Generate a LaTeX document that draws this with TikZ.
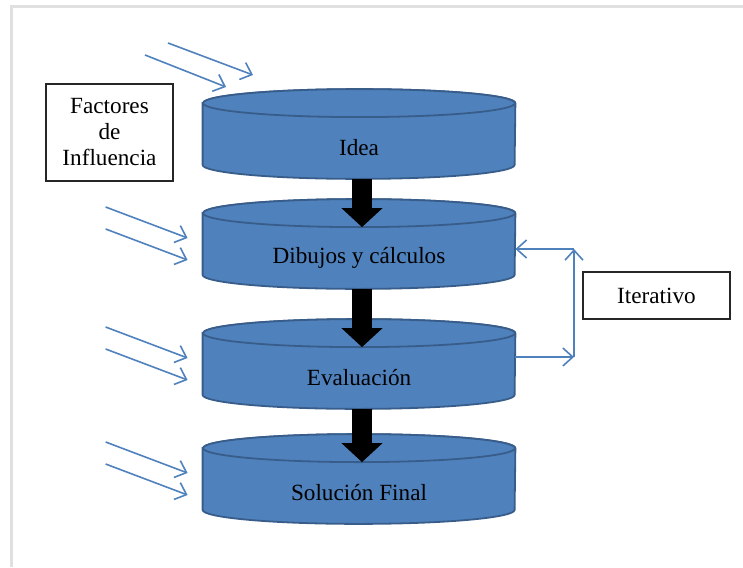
\documentclass[tikz,border=0pt]{standalone}
\usepackage{fontspec}
\setmainfont{Liberation Serif}
\usetikzlibrary{arrows.meta,backgrounds}
\definecolor{cylblue}{RGB}{79,129,189}
\definecolor{cyledge}{RGB}{56,93,138}

\begin{document}
\begin{tikzpicture}[x=0.5pt,y=0.5pt,
  cyl/.style={minimum width=156pt, minimum height=30.5pt, inner sep=0pt,
              font=\fontsize{11.6}{13}\selectfont},
  cylface/.style={fill=cylblue, draw=cyledge, line width=0.9pt},
  txtbox/.style={draw=black!85, line width=0.8pt, inner sep=0pt, align=center,
                 font=\fontsize{11.6}{13}\selectfont},
  blockarrow/.style={line width=10pt, -{Triangle[length=9.5pt,width=20pt]}},
  thinarrow/.style={cylblue, line width=0.8pt, -{Straight Barb[length=5pt,width=9pt]}}]
\useasboundingbox (0,0) rectangle (743,-567);
% page edge
\draw[black!12, line width=1.5pt] (11,-567) -- (11,-7) -- (743,-7);
% Stages
\node[cyl] (idea) at (359,-148) {Idea};
\node[cyl] (dibujos) at (359,-258) {Dibujos y cálculos};
\node[cyl] (evaluacion) at (359,-378) {Evaluación};
\node[cyl] (solucion) at (359,-493) {Solución Final};
\begin{scope}[on background layer]
\foreach \n in {idea,dibujos,evaluacion,solucion} {
  \filldraw[cylface] ([yshift=7pt]\n.north west) -- ([yshift=7pt]\n.south west)
    arc[start angle=180, end angle=360, x radius=156, y radius=14]
    -- ([yshift=7pt]\n.north east)
    arc[start angle=0, end angle=180, x radius=156, y radius=14] -- cycle;
  \draw[cylface] ([yshift=7pt]\n.north) ellipse[x radius=156, y radius=14];
}
\end{scope}
% Flow between stages
\draw[blockarrow] ([xshift=1.5pt]idea.south) -- ([xshift=1.5pt]dibujos.north);
\draw[blockarrow] ([xshift=1.5pt]dibujos.south) -- ([xshift=1.5pt]evaluacion.north);
\draw[blockarrow] ([xshift=1.5pt]evaluacion.south) -- ([xshift=1.5pt]solucion.north);
% Loop back
\node[txtbox, minimum width=73.5pt, minimum height=23.5pt] (iter) at (656.5,-295.5) {Iterativo};
\coordinate (itbot) at (574,-357);
\coordinate (ittop) at (574,-249);
\draw[thinarrow] (evaluacion.east |- itbot) -- (itbot);
\draw[thinarrow] (itbot) -- (ittop);
\draw[thinarrow] (ittop) -- (dibujos.east |- ittop);
% Influence factors
\node[txtbox, minimum width=63.5pt, minimum height=48.5pt] (factores) at (109.5,-132.5) {Factores\\de\\Influencia};
\draw[thinarrow] (168,-43) -- (253,-75);
\draw[thinarrow] (145,-55) -- (226,-87);
\foreach \n in {dibujos,evaluacion,solucion} {
  \draw[thinarrow] ([shift={(-97,51)}]\n.west) -- ([shift={(-15,20)}]\n.west);
  \draw[thinarrow] ([shift={(-97,29)}]\n.west) -- ([shift={(-15,-2)}]\n.west);
}
\end{tikzpicture}
\end{document}
